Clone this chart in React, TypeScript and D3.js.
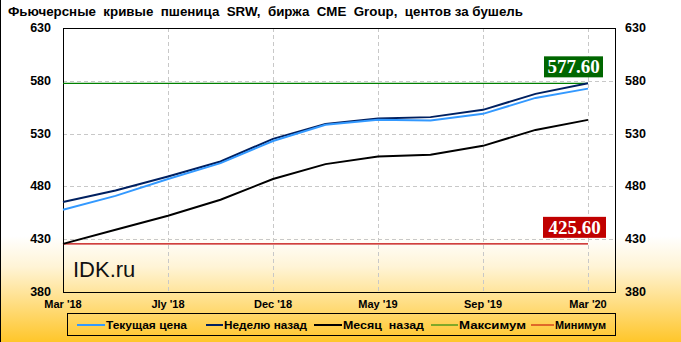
import React from "react";
import * as d3 from "d3";

const categories = ["Mar '18", "May '18", "Jly '18", "Sep '18", "Dec '18", "Mar '19", "May '19", "Jly '19", "Sep '19", "Dec '19", "Mar '20"];
const tickLabels = ["Mar '18", "Jly '18", "Dec '18", "May '19", "Sep '19", "Mar '20"];
const currentPrice = [457.9, 471, 487, 502, 523, 538.3, 543, 542.4, 548.7, 563.8, 572.6];
const weekAgo = [465.2, 476.2, 489.4, 503.6, 525, 539, 544.3, 545.6, 552.5, 567.6, 577.6];
const monthAgo = [425.6, 439, 452.2, 467.4, 487, 501.1, 508.3, 509.9, 518.4, 533.5, 543];
const maxValue = 577.6;
const minValue = 425.6;
const yTicks = [380, 430, 480, 530, 580, 630];
const title = "Фьючерсные  кривые  пшеница  SRW,  биржа  CME  Group,  центов за бушель";
const legendItems = [
  { label: "Текущая цена", color: "#3399FF" },
  { label: "Неделю назад", color: "#002060" },
  { label: "Месяц  назад", color: "#000000" },
  { label: "Максимум", color: "#008000" },
  { label: "Минимум", color: "#C00000" },
];

const W = 681, H = 342;
const L = 63, R = 615, T = 28, B = 292;
const xEnd = 588;

export default function App() {
  const x = d3.scalePoint<string>().domain(categories).range([L, xEnd]);
  const y = d3.scaleLinear().domain([380, 630]).range([B, T]);
  const line = d3
    .line<number>()
    .x((_, i) => x(categories[i]) as number)
    .y((d) => y(d));
  const font = "'Liberation Sans', Arial, sans-serif";
  const series = [
    { data: monthAgo, color: "#000000" },
    { data: weekAgo, color: "#002060" },
    { data: currentPrice, color: "#3399FF" },
  ];
  const legendX = [77, 206, 314, 431, 531];
  const legendTX = [106, 224, 343, 459, 555];
  const legendW = [81, 83, 81, 67, 51];
  return (
    <svg width={W} height={H} style={{ position: "absolute", left: 0, top: 0 }} fontFamily={font}>
      <defs>
        <linearGradient id="bg" x1="0" y1="0" x2="0" y2="1">
          <stop offset="0" stopColor="#FFFFFF" />
          <stop offset="0.69" stopColor="#FFFFFF" />
          <stop offset="0.78" stopColor="#FFF4D6" />
          <stop offset="1" stopColor="#FFC62A" />
        </linearGradient>
      </defs>
      <rect x={0} y={0} width={W} height={H} fill="url(#bg)" />
      <line x1={0.5} y1={0} x2={0.5} y2={H} stroke="#000" />
      <text x={8} y={16} fontSize={12} fontWeight="bold" style={{ whiteSpace: "pre" }} textLength={515} lengthAdjust="spacingAndGlyphs">
        {title}
      </text>
      {yTicks.filter((t) => t > 380 && t < 630).map((t) => (
        <line key={"gy" + t} x1={L} x2={R} y1={Math.round(y(t)) + 0.5} y2={Math.round(y(t)) + 0.5} stroke="#C8C8C8" strokeDasharray="4,3" />
      ))}
      {tickLabels.slice(1).map((c) => (
        <line key={"gx" + c} x1={Math.round(x(c) as number) + 0.5} x2={Math.round(x(c) as number) + 0.5} y1={T} y2={B} stroke="#C8C8C8" strokeDasharray="4,3" />
      ))}
      <rect x={L + 0.5} y={T + 0.5} width={R - L} height={B - T} fill="none" stroke="#000" />
      <line x1={L} x2={xEnd} y1={y(maxValue)} y2={y(maxValue)} stroke="#008000" strokeWidth={1.2} />
      <line x1={L} x2={xEnd} y1={y(minValue)} y2={y(minValue)} stroke="#C00000" strokeWidth={1.2} />
      {series.map((s, i) => (
        <path key={i} d={line(s.data) || ""} fill="none" stroke={s.color} strokeWidth={2} />
      ))}
      <rect x={544} y={y(maxValue) - 27} width={59} height={21} fill="#006600" />
      <text x={573.5} y={y(maxValue) - 10} textAnchor="middle" fill="#fff" fontSize={19} fontWeight="bold" fontFamily="'Liberation Serif', serif">
        {maxValue.toFixed(2)}
      </text>
      <rect x={543} y={y(minValue) - 27} width={63} height={21} fill="#C00000" />
      <text x={574.5} y={y(minValue) - 10} textAnchor="middle" fill="#fff" fontSize={19} fontWeight="bold" fontFamily="'Liberation Serif', serif">
        {minValue.toFixed(2)}
      </text>
      <text x={73} y={277} fontSize={22} fill="#111">IDK.ru</text>
      {yTicks.map((t) => (
        <g key={"yl" + t}>
          <text x={51} y={y(t)} textAnchor="end" dominantBaseline="central" fontSize={12.5} fontWeight="bold">{t}</text>
          <text x={625} y={y(t)} textAnchor="start" dominantBaseline="central" fontSize={12.5} fontWeight="bold">{t}</text>
        </g>
      ))}
      {tickLabels.map((c) => (
        <text key={"xl" + c} x={x(c) as number} y={304} textAnchor="middle" dominantBaseline="central" fontSize={11} fontWeight="bold">{c}</text>
      ))}
      <rect x={67.5} y={313.5} width={548} height={22} fill="none" stroke="#000" />
      {legendItems.map((it, i) => (
        <g key={it.label}>
          <line x1={legendX[i]} x2={legendTX[i] - 1} y1={325} y2={325} stroke={it.color} strokeWidth={i < 3 ? 2 : 1} />
          <text x={legendTX[i]} y={325} dominantBaseline="central" fontSize={11} fontWeight="bold" style={{ whiteSpace: "pre" }} textLength={legendW[i]} lengthAdjust="spacingAndGlyphs">{it.label}</text>
        </g>
      ))}
    </svg>
  );
}
